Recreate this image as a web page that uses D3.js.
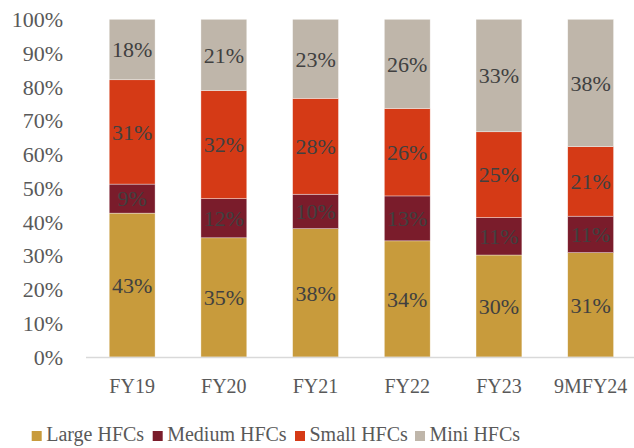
<!DOCTYPE html>
<html><head><meta charset="utf-8">
<script src="https://cdn.jsdelivr.net/npm/d3@7"></script>
<style>body{margin:0;background:#fff;} svg{display:block;} text{font-family:"Liberation Serif","Times New Roman",Tinos,"DejaVu Serif",serif;}</style>
</head><body>
<svg id="c" width="634" height="448"></svg>
<script>
const categories = ["FY19","FY20","FY21","FY22","FY23","9MFY24"];
const seriesNames = ["Large HFCs","Medium HFCs","Small HFCs","Mini HFCs"];
const large  = [42.6, 35.3, 38.0, 34.4, 30.2, 30.9];
const medium = [8.6, 11.6, 10.2, 13.3, 11.1, 10.8];
const small  = [30.9, 32.0, 28.4, 25.9, 25.4, 20.6];
const mini   = [17.9, 21.1, 23.4, 26.4, 33.3, 37.7];
const yTicks = [0,10,20,30,40,50,60,70,80,90,100];
const colors = ["#C89B3C","#7A1C2B","#D53A16","#BFB6AA"];

const svg = d3.select("#c");
const x = d3.scaleBand().domain(categories).range([86.3, 636.5]).paddingInner(0.5).paddingOuter(0.25);
const y = d3.scaleLinear().domain([0,100]).range([357, 19.3]);

const rows = categories.map((c,i)=>({cat:c, "Large HFCs":large[i], "Medium HFCs":medium[i], "Small HFCs":small[i], "Mini HFCs":mini[i]}));
const stack = d3.stack().keys(seriesNames)(rows);

// y axis labels
svg.append("g").selectAll("text").data(yTicks).join("text")
  .attr("x", 63).attr("y", d=>y(d)).attr("dy","0.35em")
  .attr("text-anchor","end").attr("font-size",22)
  .attr("fill","#595959").text(d=>d+"%");

// bars
const g = svg.append("g");
stack.forEach((s,si)=>{
  g.append("g").selectAll("rect").data(s).join("rect")
    .attr("x", d=>x(d.data.cat)).attr("width", x.bandwidth())
    .attr("y", d=>y(d[1])).attr("height", d=>y(d[0])-y(d[1]))
    .attr("fill", colors[si]).attr("stroke","#fff").attr("stroke-width",0.6).attr("stroke-opacity",0.6);
  g.append("g").selectAll("text").data(s).join("text")
    .attr("x", d=>x(d.data.cat)+x.bandwidth()/2)
    .attr("y", d=>(y(d[0])+y(d[1]))/2).attr("dy","0.35em")
    .attr("text-anchor","middle").attr("font-size",22)
    .attr("fill","#404040").text(d=>Math.round(d[1]-d[0])+"%");
});

// x axis line
svg.append("line").attr("x1",86).attr("x2",634).attr("y1",y(0)+0.5).attr("y2",y(0)+0.5)
  .attr("stroke","#D9D9D9").attr("stroke-width",1.5);

// x labels
svg.append("g").selectAll("text").data(categories).join("text")
  .attr("x", d=>x(d)+x.bandwidth()/2).attr("y", 393)
  .attr("text-anchor","middle").attr("font-size",20)
  .attr("fill","#595959").text(d=>d);

// legend
const legX = [31.7, 152.7, 295, 415];
const leg = svg.append("g");
seriesNames.forEach((n,i)=>{
  leg.append("rect").attr("x",legX[i]).attr("y",431).attr("width",10).attr("height",10).attr("fill",colors[i]);
  leg.append("text").attr("x",legX[i]+14.5).attr("y",441).attr("font-size",20)
    .attr("fill","#595959").text(n);
});
</script>
</body></html>
